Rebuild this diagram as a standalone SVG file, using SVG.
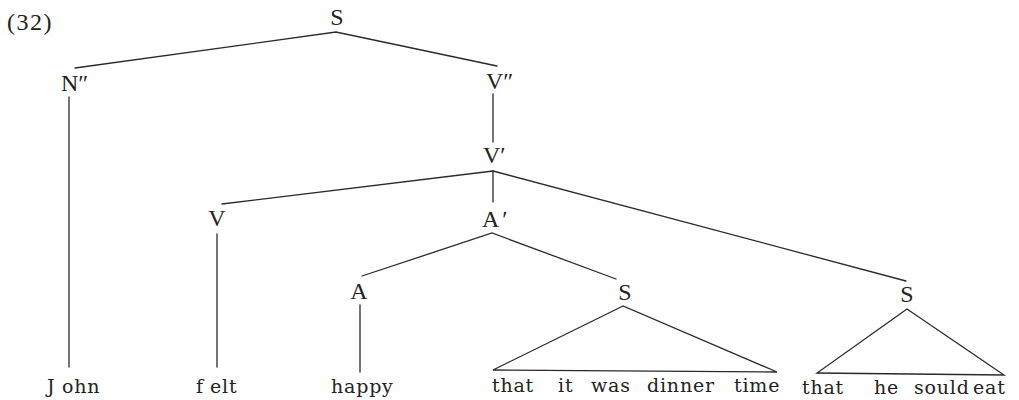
<svg xmlns="http://www.w3.org/2000/svg" width="1019" height="400" viewBox="0 0 1019 400">
<style>
.lab{font-family:"Liberation Serif","Times New Roman",serif;font-size:24px;fill:#222}
.leaf{font-family:"DejaVu Serif","Liberation Serif",serif;font-size:19px;fill:#222;letter-spacing:0.8px}
.edge{stroke:#2a2a2a;stroke-width:1.3;fill:none;stroke-linecap:round;stroke-linejoin:miter}
</style>
<rect width="1019" height="400" fill="#fff"/>
<text class="lab" x="7" y="30" style="letter-spacing:1.5px">(32)</text>
<g id="connectors">
<polyline class="edge" points="75,68 336,32 497,66"/>
<line class="edge" x1="69" y1="97" x2="69" y2="367"/>
<line class="edge" x1="493" y1="94" x2="493" y2="142"/>
<line class="edge" x1="493" y1="171" x2="222" y2="204"/>
<line class="edge" x1="493" y1="171" x2="493" y2="202"/>
<line class="edge" x1="493" y1="171" x2="906" y2="281"/>
<line class="edge" x1="217" y1="234" x2="217" y2="367"/>
<polyline class="edge" points="362,276 492,233 616,279"/>
<line class="edge" x1="360" y1="305" x2="360" y2="372"/>
<polygon class="edge" points="623,306 493,370 777,372"/>
<polygon class="edge" points="907,309 817,373 1004,375"/>
</g>
<g id="node-S"><text class="lab" x="337" y="25" text-anchor="middle">S</text></g>
<g id="node-N2"><text class="lab" x="61" y="91">N″</text></g>
<g id="node-V2"><text class="lab" x="486" y="89">V″</text></g>
<g id="node-V1"><text class="lab" x="483" y="163">V′</text></g>
<g id="node-V"><text class="lab" x="217" y="226" text-anchor="middle">V</text></g>
<g id="node-A1"><text class="lab" x="482" y="227">A<tspan dx="3">′</tspan></text></g>
<g id="node-A"><text class="lab" x="359" y="299" text-anchor="middle">A</text></g>
<g id="node-S2"><text class="lab" x="625" y="300" text-anchor="middle">S</text></g>
<g id="node-S3"><text class="lab" x="907" y="302" text-anchor="middle">S</text></g>
<g id="leaf-john"><text class="leaf" y="393"><tspan x="47">J</tspan><tspan x="62">ohn</tspan></text></g>
<g id="leaf-felt"><text class="leaf" y="393"><tspan x="196">f</tspan><tspan x="210">elt</tspan></text></g>
<g id="leaf-happy"><text class="leaf" x="331" y="393">happy</text></g>
<g id="leaf-s1"><text class="leaf" y="392"><tspan x="492">that</tspan> <tspan x="558">it</tspan> <tspan x="591">was</tspan> <tspan x="647">dinner</tspan> <tspan x="734">time</tspan></text></g>
<g id="leaf-s2"><text class="leaf" y="394"><tspan x="802">that</tspan> <tspan x="874">he</tspan> <tspan x="914">sould</tspan> <tspan x="973">eat</tspan></text></g>
</svg>
